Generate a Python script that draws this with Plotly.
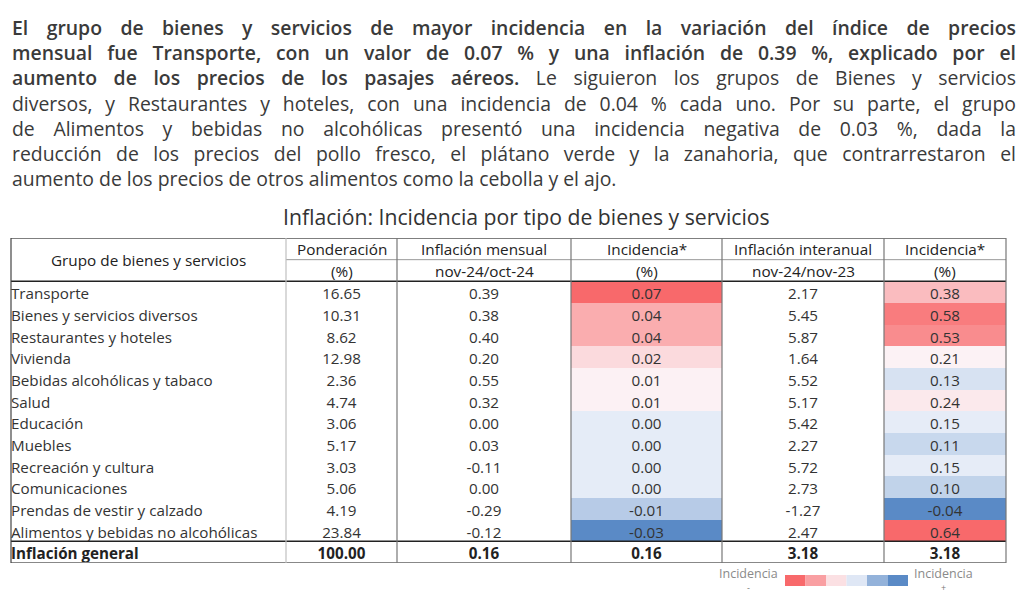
import numpy as np
import plotly.graph_objects as go

# párrafo (cortes de línea como en el original); NEG marca el tramo en negrita
parrafo = [
    "<NEG>El grupo de bienes y servicios de mayor incidencia en la variación del índice de precios</NEG>",
    "<NEG>mensual fue Transporte, con un valor de 0.07 % y una inflación de 0.39 %, explicado por el</NEG>",
    "<NEG>aumento de los precios de los pasajes aéreos.</NEG> Le siguieron los grupos de Bienes y servicios",
    "diversos, y Restaurantes y hoteles, con una incidencia de 0.04 % cada uno. Por su parte, el grupo",
    "de Alimentos y bebidas no alcohólicas presentó una incidencia negativa de 0.03 %, dada la",
    "reducción de los precios del pollo fresco, el plátano verde y la zanahoria, que contrarrestaron el",
    "aumento de los precios de otros alimentos como la cebolla y el ajo.",
]
titulo = "Inflación: Incidencia por tipo de bienes y servicios"

# datos de la tabla
grupos = ["Transporte", "Bienes y servicios diversos", "Restaurantes y hoteles", "Vivienda",
          "Bebidas alcohólicas y tabaco", "Salud", "Educación", "Muebles",
          "Recreación y cultura", "Comunicaciones", "Prendas de vestir y calzado",
          "Alimentos y bebidas no alcohólicas"]
ponderacion = [16.65, 10.31, 8.62, 12.98, 2.36, 4.74, 3.06, 5.17, 3.03, 5.06, 4.19, 23.84]
inf_mensual = [0.39, 0.38, 0.40, 0.20, 0.55, 0.32, 0.00, 0.03, -0.11, 0.00, -0.29, -0.12]
inc_mensual = [0.07, 0.04, 0.04, 0.02, 0.01, 0.01, 0.00, 0.00, 0.00, 0.00, -0.01, -0.03]
inf_anual = [2.17, 5.45, 5.87, 1.64, 5.52, 5.17, 5.42, 2.27, 5.72, 2.73, -1.27, 2.47]
inc_anual = [0.38, 0.58, 0.53, 0.21, 0.13, 0.24, 0.15, 0.11, 0.15, 0.10, -0.04, 0.64]
total_label = "Inflación general"
total = [100.00, 0.16, 0.16, 3.18, 3.18]

encabezado1 = ["Grupo de bienes y servicios", "Ponderación", "Inflación mensual",
               "Incidencia*", "Inflación interanual", "Incidencia*"]
encabezado2 = ["", "(%)", "nov-24/oct-24", "(%)", "nov-24/nov-23", "(%)"]

# layout en pixeles
W, H = 1024, 598
COL = [11, 286, 397, 571, 722, 884, 1006]
TAB_TOP, TAB_BOT = 238, 563
BAJA_TXT = 3.5      # el texto de las celdas va un poco por debajo del centro
FUENTE = "Open Sans"
TXT = "#333333"
F_CELDA, F_ENC = 15.2, 15.3

AZUL, BLANCO, ROJO = (90, 138, 198), (252, 252, 255), (248, 105, 107)


def rgb(c):
    return "rgb(%d,%d,%d)" % c


def escala(vals):
    # escala de 3 colores tipo excel: min azul, percentil 50 blanco, max rojo
    lo, hi = min(vals), max(vals)
    m = (np.percentile(vals, 50) - lo) / (hi - lo)
    return [[0, rgb(AZUL)], [m, rgb(BLANCO)], [1, rgb(ROJO)]]


def mezcla(c, t):
    return rgb(tuple(round(b + t * (a - b)) for a, b in zip(c, BLANCO)))


filas = ["enc1", "enc2"] + grupos + [total_label]

fig = go.Figure()

# celdas coloreadas de incidencia (filas de encabezado y total sin color)
for j, vals in [(3, inc_mensual), (5, inc_anual)]:
    z = [[None], [None]] + [[v] for v in vals] + [[None]]
    fig.add_trace(go.Heatmap(
        x=[COL[j], COL[j + 1]], y=filas, z=z,
        colorscale=escala(vals), zmin=min(vals), zmax=max(vals),
        showscale=False, hoverinfo="skip", xaxis="x", yaxis="y2"))

# textos de la tabla (eje y3 = mismas filas, desplazado unos px hacia abajo)
fig.add_trace(go.Scatter(
    x=[COL[0]] * len(grupos), y=grupos, text=grupos, mode="text",
    textposition="middle right", textfont=dict(family=FUENTE, size=F_CELDA, color=TXT),
    hoverinfo="skip", xaxis="x", yaxis="y3"))
fig.add_trace(go.Scatter(
    x=[COL[0]], y=[total_label], text=["<b>" + total_label + "</b>"], mode="text",
    textposition="middle right", textfont=dict(family=FUENTE, size=F_CELDA, color="#222"),
    hoverinfo="skip", xaxis="x", yaxis="y3"))

columnas = [ponderacion, inf_mensual, inc_mensual, inf_anual, inc_anual]
for j, vals in enumerate(columnas, start=1):
    xc = (COL[j] + COL[j + 1]) / 2
    fig.add_trace(go.Scatter(
        x=[xc] * len(vals), y=grupos, text=["%.2f" % v for v in vals], mode="text",
        textposition="middle center", textfont=dict(family=FUENTE, size=F_CELDA, color=TXT),
        hoverinfo="skip", xaxis="x", yaxis="y3"))
    fig.add_trace(go.Scatter(
        x=[xc], y=[total_label], text=["<b>%.2f</b>" % total[j - 1]], mode="text",
        textposition="middle center", textfont=dict(family=FUENTE, size=F_CELDA, color="#222"),
        hoverinfo="skip", xaxis="x", yaxis="y3"))

annotations = []
# párrafo
for i, linea in enumerate(parrafo):
    txt = linea.replace("<NEG>", '<span style="font-weight:600">').replace("</NEG>", "</span>")
    annotations.append(dict(
        x=10, y=27.5 + 25.2 * i, xref="x", yref="y", text=txt, showarrow=False,
        xanchor="left", yanchor="middle", align="left",
        font=dict(family=FUENTE, size=19.4, color="#3a3a3a")))
# título
annotations.append(dict(
    x=526, y=216, xref="x", yref="y", text=titulo, showarrow=False,
    font=dict(family=FUENTE, size=21.2, color=TXT)))
# encabezados
for j in range(6):
    xc = (COL[j] + COL[j + 1]) / 2
    if j == 0:
        annotations.append(dict(x=xc, y=0.5, xref="x", yref="y2", text=encabezado1[j],
                                showarrow=False, font=dict(family=FUENTE, size=F_ENC, color="#222")))
        continue
    for k, enc in enumerate([encabezado1, encabezado2]):
        annotations.append(dict(x=xc, y=k, xref="x", yref="y2", text=enc[j], showarrow=False,
                                font=dict(family=FUENTE, size=F_ENC, color="#222")))
# leyenda
for xl, signo in [(748, "-"), (943, "+")]:
    annotations.append(dict(x=xl, y=583, xref="x", yref="y", text="Incidencia",
                            showarrow=False, yanchor="bottom", borderpad=0,
                            font=dict(family=FUENTE, size=12.5, color="#8a8a8a")))
    annotations.append(dict(x=xl, y=595, xref="x", yref="y", text=signo,
                            showarrow=False, yanchor="bottom", borderpad=0,
                            font=dict(family=FUENTE, size=9, color="#777")))

shapes = []
# líneas de la tabla
lineas_h = [(-0.5, COL[0], "#555", 1.5), (0.5, COL[1], "#999", 1), (1.5, COL[0], "#222", 1.5),
            (13.5, COL[0], "#222", 1.5), (14.5, COL[0], "#888", 2)]
for yv, x0, c, w in lineas_h:
    shapes.append(dict(type="line", xref="x", yref="y2", x0=x0, x1=COL[-1], y0=yv, y1=yv,
                       line=dict(color=c, width=w)))
for j, xv in enumerate(COL):
    c = "#444" if j == 0 else ("#c0c0c0" if j == 1 else "#777")
    shapes.append(dict(type="line", xref="x", yref="y2", x0=xv, x1=xv, y0=-0.5, y1=14.5,
                       line=dict(color=c, width=1.2)))
# bloques de la leyenda
bloques = [(ROJO, 1.0), (ROJO, 0.63), (ROJO, 0.19), (AZUL, 0.18), (AZUL, 0.65), (AZUL, 1.0)]
for i, (c, t) in enumerate(bloques):
    x0 = 785 + i * 20.5
    shapes.append(dict(type="rect", xref="x", yref="y", x0=x0, x1=x0 + 20.5, y0=575, y1=586,
                       line=dict(width=0), fillcolor=mezcla(c, t)))

eje_filas = dict(type="category", categoryorder="array", categoryarray=filas,
                 range=[len(filas) - 0.5, -0.5], visible=False, fixedrange=True, anchor="x")
fig.update_layout(
    width=W, height=H, margin=dict(l=0, r=0, t=0, b=0),
    paper_bgcolor="white", plot_bgcolor="rgba(0,0,0,0)", showlegend=False,
    xaxis=dict(range=[0, W], visible=False, fixedrange=True, anchor="y"),
    yaxis=dict(range=[H, 0], visible=False, fixedrange=True, domain=[0, 1]),
    yaxis2=dict(eje_filas, domain=[1 - TAB_BOT / H, 1 - TAB_TOP / H]),
    yaxis3=dict(eje_filas, domain=[1 - (TAB_BOT + BAJA_TXT) / H, 1 - (TAB_TOP + BAJA_TXT) / H]),
    annotations=annotations, shapes=shapes,
)

# justificado del párrafo (menos la última línea)
js = """
document.body.style.margin = '0';
var gd = document.getElementById('{plot_id}');
document.fonts.ready.then(function () {
  gd.querySelectorAll('g.annotation').forEach(function (g) {
    var i = parseInt(g.getAttribute('data-index'));
    if (i < NJUST) {
      var t = g.querySelector('text.annotation-text');
      var n = (t.textContent.match(/ /g) || []).length;
      var w = t.getComputedTextLength();
      if (n > 0) { t.style.wordSpacing = ((ANCHO - w) / n) + 'px'; }
    }
  });
});
""".replace("NJUST", str(len(parrafo) - 1)).replace("ANCHO", "1004")

fig.write_html("out.html", post_script=js, config={"displayModeBar": False})
